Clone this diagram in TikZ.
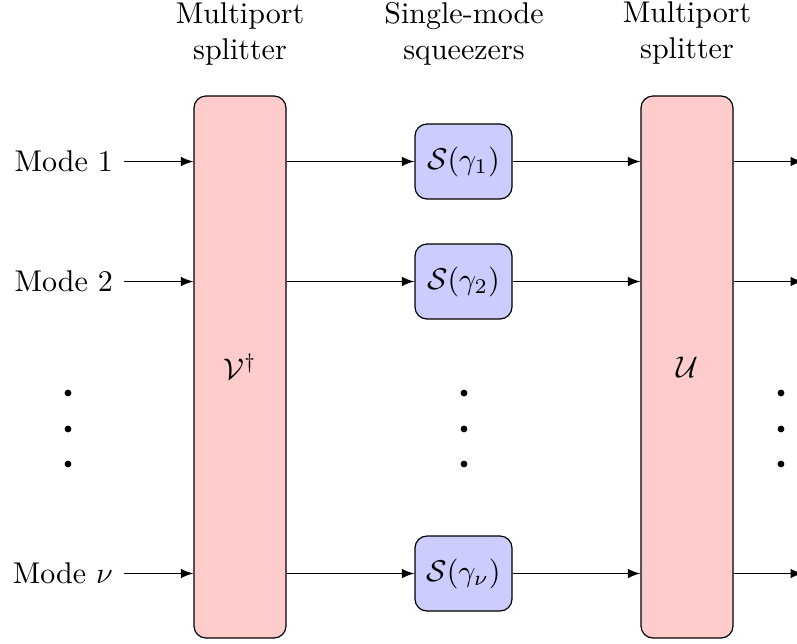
\documentclass[tikz,border=0pt]{standalone}
\usetikzlibrary{arrows}
\newdimen\pxu
\pxu=0.33333pt
\tikzset{
  bigbox/.style={draw,rounded corners,fill=red!20,minimum width=92\pxu,minimum height=542\pxu,inner sep=0pt},
  squeezer/.style={draw,rounded corners,fill=blue!20,minimum width=97\pxu,minimum height=75\pxu,inner sep=0pt},
  modelabel/.style={anchor=east},
  headlabel/.style={align=center},
  dotmark/.style={circle,fill=black,inner sep=0pt,minimum size=6.8\pxu},
  flow/.style={-latex,line width=0.45pt}
}
\begin{document}
\begin{tikzpicture}[x=0.33333pt,y=-0.33333pt]
\useasboundingbox (0,0) rectangle (797,643);
\node[bigbox] (L) at (240,367) {$\mathcal{V}^\dagger$};
\node[bigbox] (R) at (687,367) {$\mathcal{U}$};
\node[squeezer] (s1) at (463.5,161.5) {$\mathcal{S}(\gamma_1)$};
\node[squeezer] (s2) at (463.5,281.5) {$\mathcal{S}(\gamma_2)$};
\node[squeezer] (s3) at (463.5,573.5) {$\mathcal{S}(\gamma_\nu)$};
\node[modelabel] (m1) at (123.5,161.5) {Mode 1};
\node[modelabel] (m2) at (123.5,281.5) {Mode 2};
\node[modelabel] (m3) at (123.5,573.5) {Mode $\nu$};
\node[headlabel] (h1) at (240,34) {Multiport\\splitter};
\node[headlabel] (h2) at (464,34) {Single-mode\\squeezers};
\node[headlabel] (h3) at (687,33) {Multiport\\splitter};
\foreach \n/\x in {a/68,b/464,c/781}{
  \node[dotmark] (\n1) at (\x,393) {};
  \node[dotmark] (\n2) at (\x,429) {};
  \node[dotmark] (\n3) at (\x,464) {};
}
\foreach \i in {1,2,3}{
  \coordinate (o\i) at (803,0 |- s\i);
  \draw[flow] (m\i.east) -- (L.west |- m\i);
  \draw[flow] (L.east |- s\i) -- (s\i.west);
  \draw[flow] (s\i.east) -- (R.west |- s\i);
  \draw[flow] (R.east |- s\i) -- (o\i);
}
\end{tikzpicture}
\end{document}
